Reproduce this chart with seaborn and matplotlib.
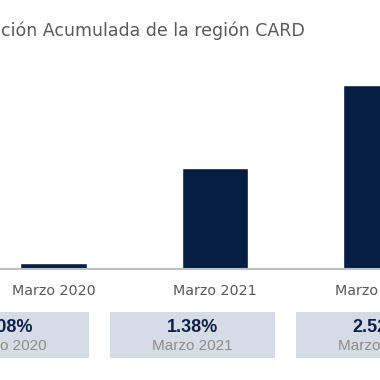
import matplotlib
matplotlib.use("Agg")
import matplotlib.pyplot as plt
import seaborn as sns
import pandas as pd

# Data
categories = ["Marzo 2020", "Marzo 2021", "Marzo 2022"]
values = [0.08, 1.38, 2.52]
value_labels = ["0.08%", "1.38%", "2.52%"]
title_text = "ción Acumulada de la región CARD"

sns.set_theme(style="white")
plt.rcParams["font.family"] = ["DejaVu Sans"]

df = pd.DataFrame({"cat": categories, "val": values})

W = H = 380
fig = plt.figure(figsize=(3.8, 3.8), dpi=100)

def px_ax(x0, y_top, x1, y_bot):
    return fig.add_axes([x0 / W, (H - y_bot) / H, (x1 - x0) / W, (y_bot - y_top) / H])

# Main bar axes
ax = px_ax(0, 50, 380, 269)
sns.barplot(data=df, x="cat", y="val", color="#061e44", saturation=1,
            width=0.41, ax=ax)
ax.set_xlim(-53.5 / 161.5, (380 - 53.5) / 161.5)
ax.set_ylim(0, 219 / 73.2)
for s in ["top", "left", "right"]:
    ax.spines[s].set_visible(False)
ax.spines["bottom"].set_color("#bfbfbf")
ax.spines["bottom"].set_linewidth(1.5)
ax.set_yticks([])
ax.set_xlabel("")
ax.set_ylabel("")
ax.tick_params(axis="x", length=0, pad=11, labelsize=10.3, labelcolor="#595959")

# Title
fig.text(1 / W, 1 - 36 / H, title_text, fontsize=12.5, color="#595959",
         ha="left", va="baseline")

# Summary boxes
ax2 = px_ax(0, 312, 380, 358)
ax2.bar(range(len(categories)), [1] * len(categories), width=165 / 186,
        color="#d6dce5", linewidth=0)
ax2.set_xlim(-6.5 / 186, 373.5 / 186)
ax2.set_ylim(0, 1)
ax2.axis("off")
for i, (lab, vl) in enumerate(zip(categories, value_labels)):
    ax2.text(i, 0.66, vl, ha="center", va="center", fontsize=13,
             fontweight="bold", color="#0e2148", family="Liberation Sans")
    ax2.text(i, 0.25, lab, ha="center", va="center", fontsize=11,
             color="#8c8c8c", family="Liberation Sans")

fig.savefig("out.png", dpi=100)
